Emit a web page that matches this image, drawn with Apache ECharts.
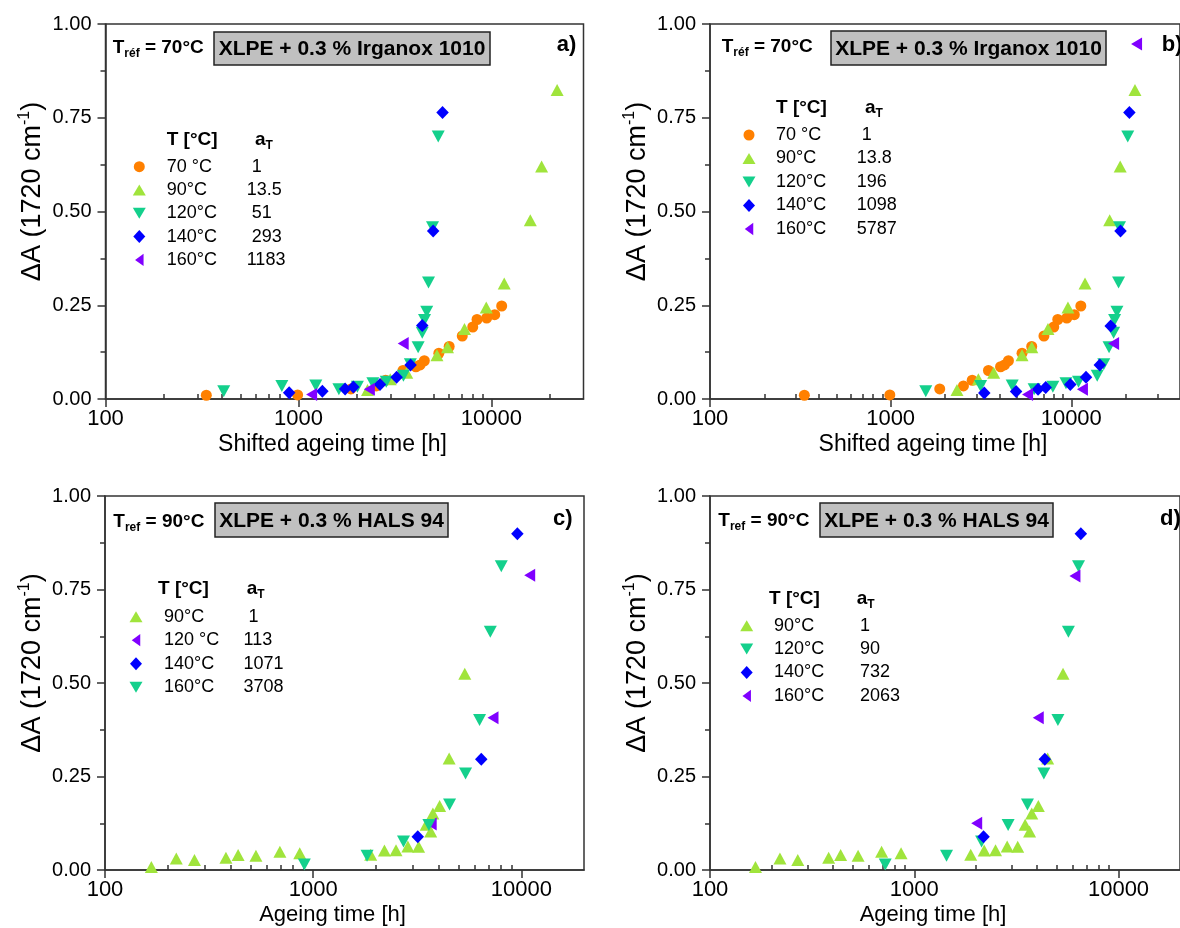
<!DOCTYPE html>
<html><head><meta charset="utf-8">
<script src="https://cdn.jsdelivr.net/npm/echarts@6/dist/echarts.min.js"></script>
<style>html,body{margin:0;padding:0;background:#fff}#c{width:1180px;height:928px}</style>
</head><body><div id="c"></div>
<script>
// ---------------- data ----------------
const xMajorTicks = [100, 1000, 10000];
const xMinorTicks = [200,300,400,500,600,700,800,900,2000,3000,4000,5000,6000,7000,8000,9000,20000,30000];

// Panels a / b : XLPE + 0.3 % Irganox 1010 (70 °C data identical in both)
const s70 = [[333,0.010],[990,0.011],[1870,0.027],[2530,0.035],[2830,0.050],[3480,0.076],[4060,0.086],[4270,0.091],[4490,0.102],[5340,0.122],[6040,0.140],[7060,0.168],[8000,0.192],[8420,0.212],[9450,0.216],[10400,0.225],[11300,0.248]];
const a90  = [[2280,0.024],[2990,0.053],[3640,0.070],[5220,0.117],[5920,0.138],[7250,0.187],[9400,0.244],[11650,0.308],[15900,0.477],[18200,0.620],[21900,0.824]];
const a120 = [[410,0.021],[820,0.035],[1230,0.036],[1620,0.026],[2020,0.033],[2430,0.042],[2850,0.046],[3500,0.062],[3800,0.093],[4170,0.138],[4380,0.177],[4500,0.211],[4620,0.233],[4720,0.311],[4950,0.458],[5300,0.700]];
const a140 = [[895,0.017],[1330,0.021],[1745,0.027],[1925,0.032],[2645,0.039],[3225,0.058],[3810,0.091],[4380,0.196],[4990,0.448],[5580,0.764]];
const a160 = [[1170,0.012],[2330,0.026],[3490,0.148],[4700,0.947]];
const b90  = [[2330,0.024],[3060,0.053],[3720,0.070],[5340,0.117],[6050,0.138],[7430,0.187],[9590,0.244],[11920,0.308],[16320,0.477],[18660,0.620],[22530,0.824]];
const b120 = [[1565,0.021],[3150,0.035],[4710,0.036],[6230,0.026],[7910,0.033],[9350,0.042],[10970,0.046],[13920,0.062],[15140,0.093],[16190,0.138],[17160,0.177],[17380,0.211],[17900,0.233],[18280,0.311],[18500,0.458],[20550,0.700]];
const b140 = [[3300,0.016],[4950,0.020],[6550,0.026],[7220,0.031],[9880,0.039],[12070,0.058],[14390,0.091],[16530,0.195],[18740,0.448],[20980,0.764]];
const b160 = [[5730,0.012],[11530,0.026],[17160,0.148],[22990,0.947]];

// Panels c / d : XLPE + 0.3 % HALS 94 (90 °C data identical in both)
const s90cd = [[167,0.008],[220,0.031],[269,0.027],[381,0.033],[436,0.040],[531,0.038],[692,0.049],[862,0.045],[1890,0.041],[2200,0.052],[2500,0.053],[2850,0.063],[3210,0.062],[3490,0.121],[3670,0.103],[3760,0.151],[4050,0.171],[4500,0.298],[5350,0.525]];
const c120 = [[3690,0.123],[7310,0.407],[10970,0.788]];
const c140 = [[3180,0.089],[6420,0.296],[9570,0.899]];
const c160 = [[907,0.015],[1815,0.038],[2716,0.076],[3596,0.120],[4521,0.175],[5396,0.258],[6300,0.401],[7095,0.637],[8010,0.812]];
const d120 = [[721,0.015],[1439,0.038],[2136,0.076],[2881,0.120],[3583,0.175],[4310,0.258],[5050,0.401],[5684,0.637],[6370,0.812]];
const d140 = [[2184,0.089],[4357,0.296],[6540,0.899]];
const d160 = [[2021,0.125],[4047,0.407],[6117,0.786]];

// legend texts
const labA = ['70 °C','90°C','120°C','140°C','160°C'];
const aTA  = [' 1','13.5',' 51',' 293','1183'];
const labB = ['70 °C','90°C','120°C','140°C','160°C'];
const aTB  = [' 1','13.8','196','1098','5787'];
const labC = ['90°C','120 °C','140°C','160°C'];
const aTC  = [' 1','113','1071','3708'];
const labD = ['90°C','120°C','140°C','160°C'];
const aTD  = ['1','90','732','2063'];

// ---------------- styling ----------------
const FONT = '"Liberation Sans", Arial, Helvetica, sans-serif';
const COL = {orange:'#FF8000', green:'#A0E43C', teal:'#14D08C', blue:'#0000FF', purple:'#8000FF'};
const SYM = {
  circle:  {symbol:'circle', size:[11,11], leg:[11,11]},
  up:      {symbol:'path://M6.5,0L13,11L0,11Z', size:[13,12], leg:[13,11]},
  down:    {symbol:'path://M0,0L13,0L6.5,11Z', size:[13,12], leg:[13,11]},
  diamond: {symbol:'diamond', size:[12.5,13], leg:[12,13]},
  left:    {symbol:'path://M0,6.5L9,0L9,13Z', size:[11,13], leg:[8.5,13]}
};
const AX = '#333';

const panels = [
  {key:'a', grid:{left:105.5, top:24, width:478, height:375}, xmax:30000, xname:'Shifted ageing time [h]', xnameSize:23,
   series:[[s70,'orange','circle'],[a90,'green','up'],[a120,'teal','down'],[a140,'blue','diamond'],[a160,'purple','left']],
   labels:labA, aT:aTA,
   leg:{iconX:139.3, row0:166.7, pitch:23.3, labX:166.7, valX:246.7, headY:140, headX:166.7, aTX:255},
   tref:{x:112.7, y:48, sub:'réf', txt:' = 70°C'}, box:{x:214, y:32, w:276, h:33, text:'XLPE + 0.3 % Irganox 1010'},
   tag:{x:556.7, y:45, text:'a)'}},
  {key:'b', grid:{left:710, top:24, width:479, height:375}, xmax:40000, xname:'Shifted ageing time [h]', xnameSize:23,
   series:[[s70,'orange','circle'],[b90,'green','up'],[b120,'teal','down'],[b140,'blue','diamond'],[b160,'purple','left']],
   labels:labB, aT:aTB,
   leg:{iconX:749, row0:135, pitch:23.5, labX:776, valX:856.7, headY:108, headX:776, aTX:865},
   tref:{x:721.7, y:47, sub:'réf', txt:' = 70°C'}, box:{x:831, y:31, w:275, h:34, text:'XLPE + 0.3 % Irganox 1010'},
   tag:{x:1161.7, y:45, text:'b)'}},
  {key:'c', grid:{left:105, top:496, width:479, height:374}, xmax:20000, xname:'Ageing time [h]', xnameSize:22,
   series:[[s90cd,'green','up'],[c120,'purple','left'],[c140,'blue','diamond'],[c160,'teal','down']],
   labels:labC, aT:aTC,
   leg:{iconX:136, row0:616.7, pitch:23.5, labX:164, valX:243.5, headY:589, headX:158, aTX:246.7},
   tref:{x:113.3, y:522, sub:'ref', txt:' = 90°C'}, box:{x:215, y:503, w:233, h:34, text:'XLPE + 0.3 % HALS 94'},
   tag:{x:553, y:519, text:'c)'}},
  {key:'d', grid:{left:710, top:496, width:479, height:374}, xmax:20000, xname:'Ageing time [h]', xnameSize:22,
   series:[[s90cd,'green','up'],[d120,'teal','down'],[d140,'blue','diamond'],[d160,'purple','left']],
   labels:labD, aT:aTD,
   leg:{iconX:746.7, row0:625.7, pitch:23.4, labX:774, valX:860, headY:599, headX:769, aTX:856.7},
   tref:{x:718.3, y:521, sub:'ref', txt:' = 90°C'}, box:{x:820, y:503, w:233, h:34, text:'XLPE + 0.3 % HALS 94'},
   tag:{x:1160, y:519, text:'d)'}}
];

const option = {animation:false, backgroundColor:'#fff', grid:[], xAxis:[], yAxis:[], series:[], legend:[], graphic:[]};

panels.forEach((p, i) => {
  option.grid.push(Object.assign({show:true, borderColor:AX, borderWidth:1.5, backgroundColor:'transparent'}, p.grid));
  // main x axis
  option.xAxis.push({
    type:'log', logBase:10, gridIndex:i, min:100, max:p.xmax,
    axisLine:{show:true, onZero:false, lineStyle:{color:AX, width:1.5}},
    axisTick:{show:true, inside:false, length:8, customValues:xMajorTicks, lineStyle:{color:AX, width:1.5}},
    axisLabel:{show:true, customValues:xMajorTicks, formatter:v=>String(Math.round(v)), fontSize:22, color:'#000', fontFamily:FONT, margin:9},
    splitLine:{show:false}, minorTick:{show:false},
    name:p.xname, nameLocation:'middle', nameGap:34,
    nameTextStyle:{fontSize:p.xnameSize, color:'#000', fontFamily:FONT, padding:[0,24,0,0]}
  });
  // minor ticks x axis (overlay)
  option.xAxis.push({
    type:'log', logBase:10, gridIndex:i, min:100, max:p.xmax,
    axisLine:{show:false},
    axisTick:{show:true, inside:false, length:5, customValues:xMinorTicks.filter(v=>v<p.xmax), lineStyle:{color:AX, width:1.5}},
    axisLabel:{show:false}, splitLine:{show:false}
  });
  option.yAxis.push({
    type:'value', gridIndex:i, min:0, max:1, interval:0.25,
    axisLine:{show:true, onZero:false, lineStyle:{color:AX, width:1.5}},
    axisTick:{show:true, inside:false, length:8, lineStyle:{color:AX, width:1.5}},
    minorTick:{show:true, splitNumber:2, length:5, lineStyle:{color:AX, width:1.5}},
    axisLabel:{formatter:v=>v.toFixed(2), fontSize:20, color:'#000', fontFamily:FONT, margin:14},
    splitLine:{show:false}, minorSplitLine:{show:false},
    name:'ΔA (1720 cm{sup|-1})', nameLocation:'middle', nameRotate:90, nameGap:55,
    nameTextStyle:{fontSize:27, color:'#000', fontFamily:FONT, lineHeight:32, padding:[0,0,0,40],
      rich:{sup:{fontSize:16, color:'#000', fontFamily:FONT, verticalAlign:'top', lineHeight:16}}}
  });
  const L = p.leg;
  p.series.forEach((s, k) => {
    const nm = p.key + '|' + k;
    const sym = SYM[s[2]];
    option.series.push({
      type:'scatter', name:nm, xAxisIndex:2*i, yAxisIndex:i, data:s[0],
      symbol:sym.symbol, symbolSize:sym.size,
      itemStyle:{color:COL[s[1]], opacity:1}, clip:false, z:2+k
    });
    // one legend row per series so that each icon has its own size
    const w = sym.leg[0], h = sym.leg[1];
    option.legend.push({
      orient:'vertical', left:L.iconX - w/2, top:L.row0 + k*L.pitch - 10, padding:0,
      itemWidth:w, itemHeight:h, selectedMode:false, data:[nm],
      formatter:()=>'{l|'+p.labels[k]+'}{v|'+p.aT[k]+'}',
      textStyle:{fontSize:18, color:'#000', fontFamily:FONT, lineHeight:20,
        rich:{l:{fontSize:18, color:'#000', fontFamily:FONT, width:L.valX-L.labX, padding:[0,0,0,L.labX-(L.iconX+w/2+5)], lineHeight:20},
              v:{fontSize:18, color:'#000', fontFamily:FONT, lineHeight:20}}}
    });
  });
  // annotations
  option.graphic.push(
    {type:'text', z:100, x:p.tref.x, y:p.tref.y, style:{text:'{b|T}{s|'+p.tref.sub+'}{b|'+p.tref.txt+'}', verticalAlign:'middle', align:'left',
      rich:{b:{fontSize:19, fontWeight:'bold', fontFamily:FONT, fill:'#000', lineHeight:24},
            s:{fontSize:12, fontWeight:'bold', fontFamily:FONT, fill:'#000', lineHeight:12, verticalAlign:'bottom'}}}},
    {type:'rect', z:100, shape:{x:p.box.x, y:p.box.y, width:p.box.w, height:p.box.h}, style:{fill:'#C0C0C0', stroke:'#222', lineWidth:1.5}},
    {type:'text', z:101, x:p.box.x+p.box.w/2, y:p.box.y+p.box.h/2+1, style:{text:p.box.text, fontSize:21, fontWeight:'bold', fontFamily:FONT, fill:'#000', align:'center', verticalAlign:'middle'}},
    {type:'text', z:100, x:p.tag.x, y:p.tag.y, style:{text:p.tag.text, fontSize:22, fontWeight:'bold', fontFamily:FONT, fill:'#000', align:'left', verticalAlign:'middle'}},
    {type:'text', z:100, x:L.headX, y:L.headY, style:{text:'T [°C]', fontSize:19, fontWeight:'bold', fontFamily:FONT, fill:'#000', align:'left', verticalAlign:'middle'}},
    {type:'text', z:100, x:L.aTX, y:L.headY, style:{text:'{b|a}{s|T}', align:'left', verticalAlign:'middle',
      rich:{b:{fontSize:19, fontWeight:'bold', fontFamily:FONT, fill:'#000', lineHeight:24},
            s:{fontSize:12, fontWeight:'bold', fontFamily:FONT, fill:'#000', lineHeight:12, verticalAlign:'bottom'}}}}
  );
});

const chart = echarts.init(document.getElementById('c'), null, {renderer:'canvas', width:1180, height:928});
chart.setOption(option);
</script>
</body></html>
